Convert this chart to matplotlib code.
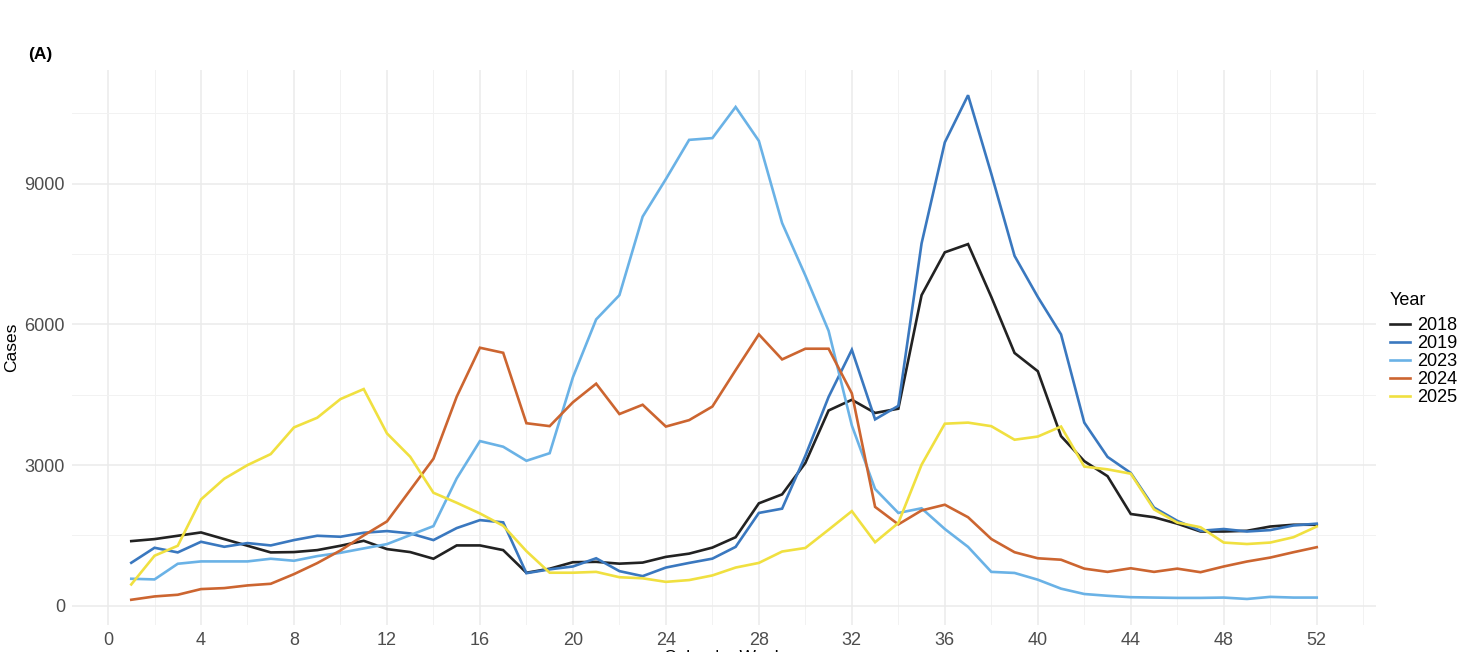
import matplotlib
matplotlib.use("Agg")
import matplotlib.pyplot as plt
import numpy as np

plt.rcParams['font.family'] = ['Liberation Sans', 'DejaVu Sans']

weeks = list(range(1, 53))
years = ["2018", "2019", "2023", "2024", "2025"]
colors = ["#222222", "#3a78bf", "#6ab2e6", "#cc6530", "#f0e040"]

cases_2018 = [1379, 1422, 1493, 1564, 1422, 1280, 1138, 1145, 1187, 1280,
              1386, 1209, 1145, 1003, 1287, 1287, 1187, 704, 790, 929,
              937, 898, 921, 1043, 1112, 1241, 1462, 2185, 2376, 3046,
              4165, 4393, 4112, 4203, 6624, 7538, 7713, 6586, 5391, 5002,
              3617, 3084, 2764, 1957, 1888, 1751, 1584, 1584, 1599, 1690,
              1728, 1728]
cases_2019 = [917, 1237, 1138, 1365, 1258, 1337, 1287, 1401, 1493, 1472,
              1557, 1593, 1543, 1401, 1657, 1827, 1779, 695, 777, 838,
              1013, 739, 632, 815, 914, 1005, 1256, 1980, 2071, 3198,
              4454, 5459, 3975, 4264, 7728, 9883, 10888, 9213, 7462, 6586,
              5787, 3906, 3175, 2832, 2094, 1812, 1599, 1637, 1584, 1614,
              1713, 1751]
cases_2023 = [576, 562, 896, 946, 946, 946, 1003, 960, 1059, 1130,
              1223, 1315, 1507, 1699, 2716, 3512, 3392, 3092, 3254, 4873,
              6107, 6624, 8299, 9100, 9936, 9974, 10637, 9914, 8162, 7043,
              5863, 3845, 2490, 1980, 2079, 1637, 1256, 723, 700, 556,
              365, 251, 213, 183, 175, 168, 168, 175, 145, 190,
              175, 175]
cases_2024 = [128, 199, 235, 356, 377, 434, 469, 675, 910, 1180,
              1500, 1799, 2467, 3136, 4458, 5503, 5395, 3893, 3831, 4340,
              4736, 4089, 4287, 3822, 3959, 4249, 5025, 5787, 5254, 5482,
              5482, 4530, 2109, 1736, 2033, 2155, 1888, 1424, 1142, 1013,
              982, 792, 723, 800, 723, 792, 716, 838, 944, 1028,
              1142, 1249]
cases_2025 = [455, 1067, 1280, 2268, 2709, 3000, 3235, 3804, 4010, 4408,
              4622, 3676, 3178, 2410, 2197, 1969, 1706, 1165, 705, 705,
              723, 609, 586, 510, 548, 647, 815, 914, 1157, 1233,
              1622, 2018, 1355, 1766, 3008, 3883, 3906, 3830, 3541, 3609,
              3822, 2969, 2909, 2817, 2056, 1774, 1675, 1348, 1317, 1348,
              1462, 1690]
series = [cases_2018, cases_2019, cases_2023, cases_2024, cases_2025]

x_ticks = list(range(0, 53, 4))
y_ticks = [0, 3000, 6000, 9000]

fig = plt.figure(figsize=(14.82, 6.52), dpi=100)
ax = fig.add_axes([72/1482, 1-625/652, (1376-72)/1482, (625-70)/652])

for yr, col, vals in zip(years, colors, series):
    ax.plot(weeks, vals, color=col, lw=1.9, label=yr, solid_joinstyle='miter')

allv = np.concatenate([np.array(s) for s in series])
lo, hi = allv.min(), allv.max()
pad = 0.05 * (hi - lo)
ax.set_ylim(lo - pad, hi + pad)
ax.set_xlim(1 - 0.05 * 51, 52 + 0.05 * 51)

ax.set_xticks(x_ticks)
ax.set_xticks(list(range(2, 55, 4)), minor=True)
ax.set_yticks(y_ticks)
ax.set_yticks([1500, 4500, 7500, 10500], minor=True)
ax.grid(which='major', color='#ebebeb', lw=1.1)
ax.grid(which='minor', color='#f2f2f2', lw=0.7)
ax.set_axisbelow(True)
for s in ax.spines.values():
    s.set_visible(False)
ax.tick_params(which='both', length=0, labelsize=13, labelcolor='#4d4d4d')
ax.tick_params(axis='x', pad=5)
ax.tick_params(axis='y', pad=5)

ax.set_ylabel("Cases", fontsize=12.5, labelpad=4)
ax.set_xlabel("Calendar Week", fontsize=12.5, labelpad=1)

fig.text(28/1482, 1-55/652, "(A)", fontsize=12.5, fontweight='bold', va='center', ha='left')

leg = ax.legend(title="Year", loc='upper left', bbox_to_anchor=(1390/1482, 1-292/652),
                bbox_transform=fig.transFigure, frameon=False, fontsize=13,
                title_fontsize=13, handlelength=1.1, handletextpad=0.4,
                labelspacing=0.05, borderpad=0, borderaxespad=0)
leg._legend_box.align = "left"
leg._legend_box.sep = 6

fig.savefig("out.png", dpi=100, facecolor='white')
